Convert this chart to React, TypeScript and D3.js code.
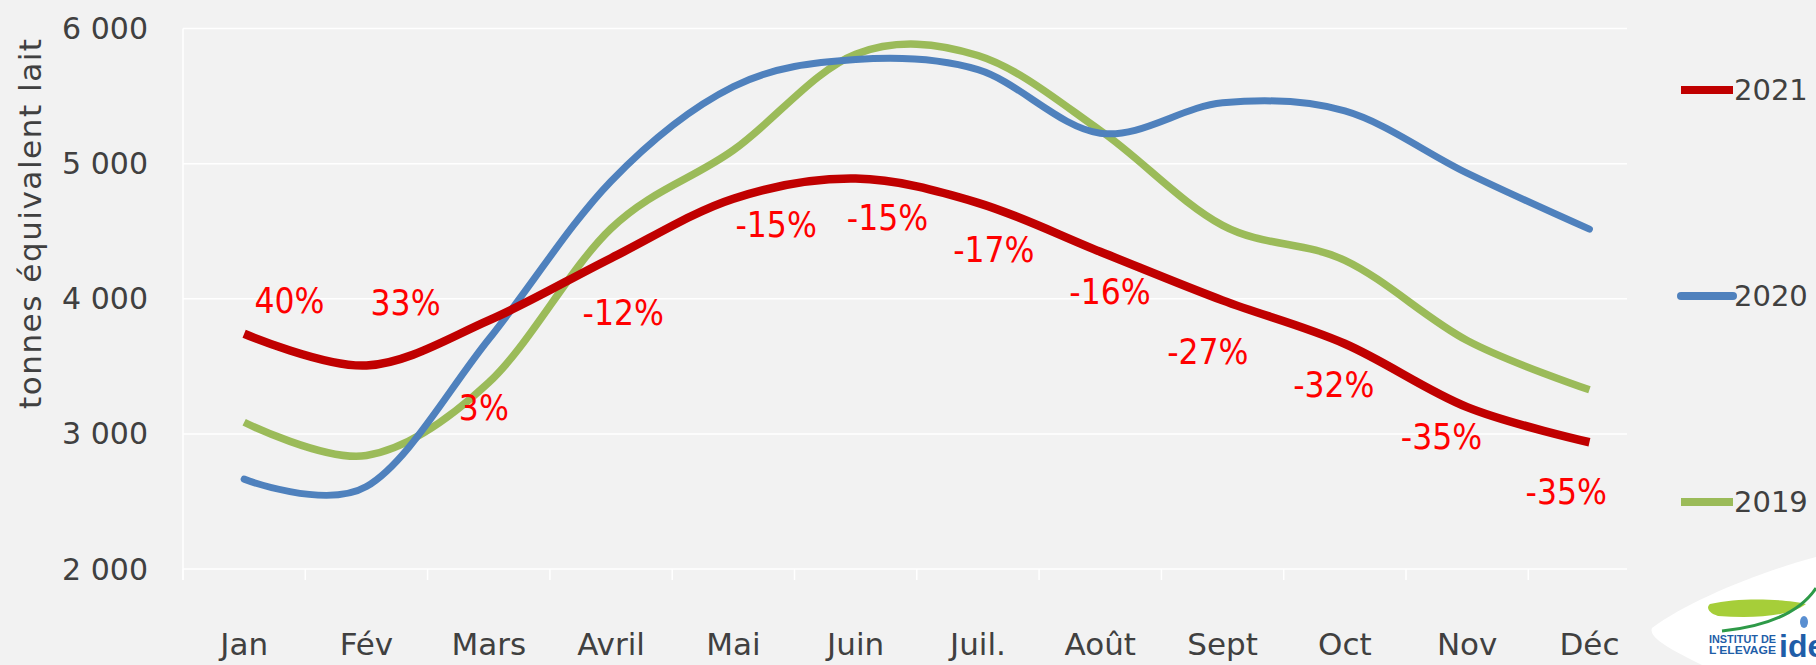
import React from 'react';
import * as d3 from 'd3';

// months on the x axis
const months = ['Jan', 'Fév', 'Mars', 'Avril', 'Mai', 'Juin', 'Juil.', 'Août', 'Sept', 'Oct', 'Nov', 'Déc'];
const yTicks = [2000, 3000, 4000, 5000, 6000];

// tonnes équivalent lait
const values2021 = [3741, 3506, 3840, 4300, 4740, 4889, 4710, 4348, 3988, 3667, 3198, 2938];
const values2020 = [2665, 2610, 3700, 4870, 5570, 5770, 5695, 5225, 5450, 5390, 4930, 4515];
const values2019 = [3086, 2840, 3380, 4520, 5100, 5810, 5800, 5245, 4543, 4284, 3691, 3326];

// 2021 vs 2020 labels, and where they sit (month index, tonnes)
const pctLabels = ['40%', '33%', '3%', '-12%', '-15%', '-15%', '-17%', '-16%', '-27%', '-32%', '-35%', '-35%'];
const pctAtMonth = [0.37, 1.32, 1.96, 3.1, 4.35, 5.26, 6.13, 7.08, 7.88, 8.91, 9.79, 10.81];
const pctAtValue = [3983, 3968, 3191, 3894, 4545, 4597, 4360, 4050, 3605, 3361, 2976, 2569];

const legendYears = ['2021', '2020', '2019'];

const W = 1816;
const H = 665;
const left = 183;
const step = 122.3;
const gridRight = 1627;
const top = 28.5;
const bottom = 569;

const axisFont = '"DejaVu Sans", Verdana, sans-serif';
const textColor = '#404040';

const App: React.FC = () => {
    const x = d3.scaleBand<string>()
        .domain(months)
        .range([left, left + step * months.length]);
    const cx = (i: number) => (x(months[0]) as number) + x.bandwidth() / 2 + i * x.step();

    const y = d3.scaleLinear().domain([2000, 6000]).range([bottom, top]);

    const line = d3.line<number>()
        .x((_, i) => cx(i))
        .y(d => y(d))
        .curve(d3.curveCardinal.tension(0));

    const series = [
        {name: '2019', values: values2019, color: '#9BBB59', width: 7.5, cap: 'butt'},
        {name: '2020', values: values2020, color: '#4F81BD', width: 7, cap: 'round'},
        {name: '2021', values: values2021, color: '#C00000', width: 8.5, cap: 'butt'},
    ];
    const legendColor: Record<string, string> = {'2021': '#C00000', '2020': '#4F81BD', '2019': '#9BBB59'};
    const legendY = [90, 296, 502];

    return (
        <svg width={W} height={H} style={{position: 'fixed', left: 0, top: 0, background: '#F2F2F2'}}>
            <rect width={W} height={H} fill="#F2F2F2"/>

            {/* gridlines */}
            {yTicks.map(t => (
                <line key={t} x1={left} x2={gridRight} y1={y(t)} y2={y(t)} stroke="#FFFFFF" strokeWidth={1.5}/>
            ))}
            <line x1={left} x2={left} y1={top} y2={bottom + 11} stroke="#FFFFFF" strokeWidth={1.5}/>
            {months.map(m => (
                <line key={m} x1={x(m)} x2={x(m)} y1={bottom} y2={bottom + 11} stroke="#FFFFFF" strokeWidth={1.5}/>
            ))}

            {/* y labels */}
            {yTicks.map(t => (
                <text key={t} x={148} y={y(t)} textAnchor="end" dominantBaseline="central"
                      fontFamily={axisFont} fontSize={30} fill={textColor}>
                    {d3.format(',')(t).replace(',', ' ')}
                </text>
            ))}
            <text transform="translate(41,224) rotate(-90)" textAnchor="middle" fontFamily={axisFont}
                  fontSize={31} fill={textColor} textLength={370} lengthAdjust="spacing">tonnes équivalent lait</text>

            {/* x labels */}
            {months.map((m, i) => (
                <text key={m} x={cx(i)} y={655} textAnchor="middle" fontFamily={axisFont}
                      fontSize={31} fill={textColor}>{m}</text>
            ))}

            {/* lines */}
            {series.map(s => (
                <path key={s.name} d={line(s.values) || ''} fill="none" stroke={s.color}
                      strokeWidth={s.width} strokeLinecap={s.cap as any}/>
            ))}

            {/* percentage labels */}
            {pctLabels.map((p, i) => (
                <text key={i} x={cx(pctAtMonth[i])} y={y(pctAtValue[i])} textAnchor="middle"
                      dominantBaseline="central" fontFamily='"Liberation Sans Narrow", "DejaVu Sans Condensed", sans-serif'
                      fontSize={35} fill="#FF0000">{p}</text>
            ))}

            {/* legend */}
            {legendYears.map((yr, i) => (
                <g key={yr}>
                    <line x1={1681} x2={1733} y1={legendY[i]} y2={legendY[i]} stroke={legendColor[yr]}
                          strokeWidth={8} strokeLinecap={yr === '2020' ? 'round' : 'butt'}/>
                    <text x={1734} y={legendY[i]} dominantBaseline="central" fontFamily={axisFont}
                          fontSize={29} fill={textColor}>{yr}</text>
                </g>
            ))}

            {/* logo */}
            <path d="M1652,628 C1690,600 1760,572 1816,557 L1816,665 L1702,665 C1672,650 1648,638 1652,628 Z" fill="#FFFFFF"/>
            <path d="M1710,604 C1740,597 1785,599 1806,604 C1790,616 1755,619 1718,616 C1708,613 1706,607 1710,604 Z" fill="#A6CE39"/>
            <path d="M1722,631 C1770,626 1800,612 1816,588" fill="none" stroke="#2E9A48" strokeWidth={3}/>
            <ellipse cx={1804} cy={622} rx={4} ry={6} fill="#5A8FD1"/>
            <text x={1709} y={643} fontFamily='"Liberation Sans", Arial, sans-serif' fontWeight="bold" fontSize={10}
                  fill="#1F5EA8" textLength={67} lengthAdjust="spacingAndGlyphs">INSTITUT DE</text>
            <text x={1709} y={654} fontFamily='"Liberation Sans", Arial, sans-serif' fontWeight="bold" fontSize={10}
                  fill="#1F5EA8" textLength={67} lengthAdjust="spacingAndGlyphs">L'ELEVAGE</text>
            <text x={1779} y={657} fontFamily='"Liberation Sans", Arial, sans-serif' fontWeight="bold" fontSize={32}
                  fill="#1F5EA8">ide</text>
        </svg>
    );
};

export default App;
